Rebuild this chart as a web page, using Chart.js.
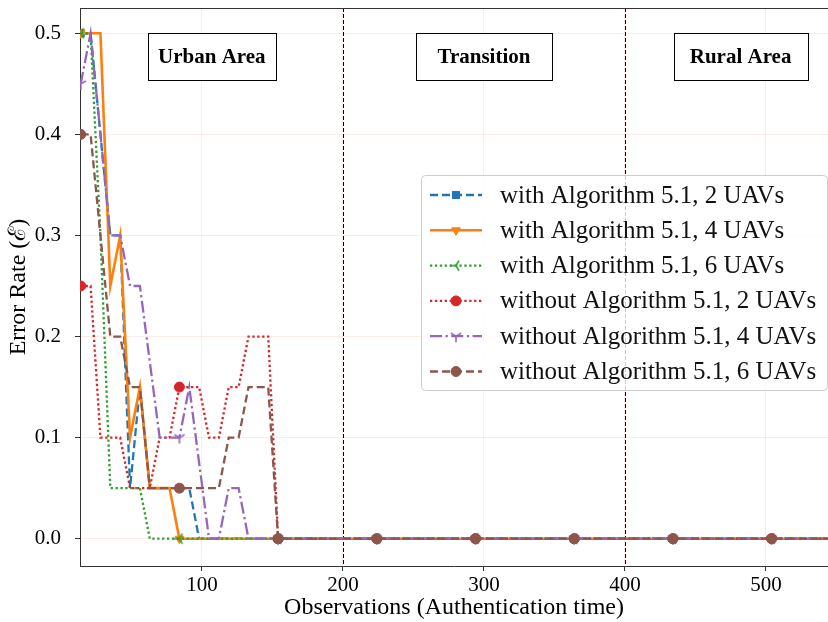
<!DOCTYPE html>
<html>
<head>
<meta charset="utf-8">
<title>Error rate vs observations</title>
<script src="https://cdn.jsdelivr.net/npm/chart.js@4.4.0/dist/chart.umd.min.js"></script>
<style>
  html, body { margin: 0; padding: 0; background: #fff; }
  #wrap { position: relative; width: 828px; height: 622px; }
</style>
</head>
<body>
<div id="wrap"><canvas id="errorChart"></canvas></div>
<script>
// observation times (x) - dense in the urban part, then only where markers sit
const observations = [14, 21, 28, 35, 42, 49, 56, 63, 70, 77, 84, 91, 98, 105, 112, 119, 126, 133, 140, 147, 154,
    224, 294, 364, 434, 504, 574];
// observations that carry a marker (markevery)
const markerObs = [14, 84, 154, 224, 294, 364, 434, 504, 574];

// error rate for each series
const withAlg2UAV = [0.5, 0.5, 0.4, 0.3, 0.3, 0.05, 0.15, 0.05, 0.05, 0.05, 0.05, 0.05, 0, 0, 0, 0, 0, 0, 0, 0, 0,
    0, 0, 0, 0, 0, 0];
const withAlg4UAV = [0.5, 0.5, 0.5, 0.25, 0.3, 0.1, 0.15, 0.05, 0.05, 0.05, 0, 0, 0, 0, 0, 0, 0, 0, 0, 0, 0,
    0, 0, 0, 0, 0, 0];
const withAlg6UAV = [0.5, 0.5, 0.3, 0.05, 0.05, 0.05, 0.05, 0, 0, 0, 0, 0, 0, 0, 0, 0, 0, 0, 0, 0, 0,
    0, 0, 0, 0, 0, 0];
const withoutAlg2UAV = [0.25, 0.25, 0.1, 0.1, 0.1, 0.05, 0.05, 0.05, 0.1, 0.1, 0.15, 0.15, 0.15, 0.1, 0.1, 0.15, 0.15, 0.2, 0.2, 0.2, 0,
    0, 0, 0, 0, 0, 0];
const withoutAlg4UAV = [0.45, 0.5, 0.4, 0.3, 0.3, 0.25, 0.25, 0.175, 0.1, 0.1, 0.1, 0.15, 0.075, 0, 0, 0.05, 0.05, 0, 0, 0, 0,
    0, 0, 0, 0, 0, 0];
const withoutAlg6UAV = [0.4, 0.4, 0.3, 0.2, 0.2, 0.15, 0.15, 0.05, 0.05, 0.05, 0.05, 0.05, 0.05, 0.05, 0.05, 0.1, 0.1, 0.15, 0.15, 0.15, 0,
    0, 0, 0, 0, 0, 0];

const seriesLabels = [
    'with Algorithm 5.1, 2 UAVs',
    'with Algorithm 5.1, 4 UAVs',
    'with Algorithm 5.1, 6 UAVs',
    'without Algorithm 5.1, 2 UAVs',
    'without Algorithm 5.1, 4 UAVs',
    'without Algorithm 5.1, 6 UAVs'
];

const xTicks = [100, 200, 300, 400, 500];
const yTicks = [0, 0.1, 0.2, 0.3, 0.4, 0.5];

// area boundaries and area names
const zoneBorders = [200, 400];
const zoneNames = ['Urban Area', 'Transition', 'Rural Area'];
const zoneCenters = [107, 300, 482];

const SERIF = '"Liberation Serif", "Times New Roman", "DejaVu Serif", serif';

// tri markers like matplotlib '1' and '3'
function triMarker(color, angles) {
    const c = document.createElement('canvas');
    c.width = 14; c.height = 14;
    const g = c.getContext('2d');
    g.strokeStyle = color;
    g.lineWidth = 1.6;
    g.beginPath();
    angles.forEach(a => {
        const r = a * Math.PI / 180;
        g.moveTo(7, 7);
        g.lineTo(7 + 6 * Math.cos(r), 7 + 6 * Math.sin(r));
    });
    g.stroke();
    return c;
}

function points(values) {
    return observations.map((x, i) => ({ x: x, y: values[i] }));
}

function markerRadius(r) {
    return ctx => (markerObs.includes(observations[ctx.dataIndex]) ? r : 0);
}

function makeSet(label, values, color, dash, width, style, rotation, order) {
    return {
        label: label,
        data: points(values),
        borderColor: color,
        backgroundColor: color,
        pointBackgroundColor: color,
        pointBorderColor: color,
        borderWidth: width,
        borderDash: dash,
        pointStyle: style,
        pointRotation: rotation,
        pointRadius: markerRadius(5),
        pointBorderWidth: 1,
        tension: 0,
        fill: false,
        order: order
    };
}

const datasets = [
    makeSet(seriesLabels[0], withAlg2UAV, '#1f77b4', [8, 4], 2.3, 'rect', 0, 6),
    makeSet(seriesLabels[1], withAlg4UAV, '#ff7f0e', [], 2.6, 'triangle', 180, 5),
    makeSet(seriesLabels[2], withAlg6UAV, '#2ca02c', [2.3, 2.6], 2.3, triMarker('#2ca02c', [180, 300, 60]), 0, 4),
    makeSet(seriesLabels[3], withoutAlg2UAV, '#d62728', [2.3, 2.6], 2.3, 'circle', 0, 3),
    makeSet(seriesLabels[4], withoutAlg4UAV, '#9467bd', [12, 3.5, 2.3, 3.5], 2.3, triMarker('#9467bd', [90, 210, 330]), 0, 2),
    makeSet(seriesLabels[5], withoutAlg6UAV, '#8c564b', [8, 4], 2.3, 'circle', 0, 1)
];

// box sizes of the area labels
const zoneBoxW = [128, 136, 134];
const zoneBoxH = 47;

// dashed boundaries, area labels, legend, top spine
const overlayPlugin = {
    id: 'overlay',
    beforeDatasetsDraw(chart) {
        const { ctx, chartArea: a, scales: { x } } = chart;
        ctx.save();
        ctx.strokeStyle = '#000';
        ctx.lineWidth = 1;
        ctx.setLineDash([4, 2]);
        zoneBorders.forEach(v => {
            const px = Math.round(x.getPixelForValue(v)) + 0.5;
            ctx.beginPath();
            ctx.moveTo(px, a.top);
            ctx.lineTo(px, a.bottom);
            ctx.stroke();
        });
        ctx.restore();
    },
    afterDraw(chart) {
        const { ctx, chartArea: a, scales: { x, y } } = chart;
        ctx.save();

        // top spine
        ctx.strokeStyle = '#333';
        ctx.lineWidth = 1;
        ctx.beginPath();
        ctx.moveTo(a.left, a.top + 0.5);
        ctx.lineTo(a.right, a.top + 0.5);
        ctx.stroke();

        // area labels in boxes
        ctx.font = 'bold 21px ' + SERIF;
        ctx.textAlign = 'center';
        ctx.textBaseline = 'middle';
        const cy = y.getPixelForValue(0.477);
        zoneNames.forEach((name, i) => {
            const cx = x.getPixelForValue(zoneCenters[i]);
            const w = zoneBoxW[i];
            const bx = Math.round(cx - w / 2) + 0.5;
            const by = Math.round(cy - zoneBoxH / 2) + 0.5;
            ctx.fillStyle = '#fff';
            ctx.fillRect(bx, by, w, zoneBoxH);
            ctx.strokeStyle = '#000';
            ctx.strokeRect(bx, by, w, zoneBoxH);
            ctx.fillStyle = '#000';
            ctx.fillText(name, cx, cy + 1);
        });

        // legend
        const lx = 421, ly = 175, lw = 406, lh = 215;
        ctx.fillStyle = 'rgba(255,255,255,0.8)';
        ctx.strokeStyle = '#cccccc';
        ctx.beginPath();
        ctx.roundRect(lx + 0.5, ly + 0.5, lw, lh, 4);
        ctx.fill();
        ctx.stroke();

        ctx.font = '25px ' + SERIF;
        ctx.textAlign = 'left';
        chart.data.datasets.forEach((ds, i) => {
            const ry = 195 + i * 35.3;
            ctx.strokeStyle = ds.borderColor;
            ctx.lineWidth = ds.borderWidth;
            ctx.setLineDash(ds.borderDash);
            ctx.beginPath();
            ctx.moveTo(430, ry);
            ctx.lineTo(482, ry);
            ctx.stroke();
            ctx.setLineDash([]);
            ctx.fillStyle = ds.pointBackgroundColor;
            ctx.lineWidth = 1;
            Chart.helpers.drawPoint(ctx, {
                pointStyle: ds.pointStyle,
                rotation: ds.pointRotation,
                radius: 5,
                borderWidth: 1
            }, 456, ry);
            ctx.fillStyle = '#111';
            ctx.fillText(ds.label, 500, ry + 1);
        });
        ctx.restore();
    }
};

const gridColor = 'rgba(255, 160, 160, 0.22)';

new Chart(document.getElementById('errorChart'), {
    type: 'line',
    data: { datasets: datasets },
    options: {
        responsive: true,
        maintainAspectRatio: false,
        animation: false,
        devicePixelRatio: 1,
        events: [],
        layout: { autoPadding: false, padding: { top: 8, right: 0, left: 0, bottom: 0 } },
        plugins: {
            legend: { display: false },
            tooltip: { enabled: false }
        },
        scales: {
            x: {
                type: 'linear',
                min: 13.5,
                max: 544,
                afterBuildTicks: s => { s.ticks = xTicks.map(v => ({ value: v })); },
                afterFit: s => { s.height = 56; s.paddingLeft = 0; s.paddingRight = 0; },
                ticks: {
                    color: '#000',
                    font: { family: SERIF, size: 21 },
                    padding: 2,
                    maxRotation: 0,
                    autoSkip: false
                },
                grid: { color: gridColor, tickColor: '#333', tickLength: 5 },
                border: { color: '#333', width: 1 },
                title: {
                    display: true,
                    text: 'Observations (Authentication time)',
                    color: '#000',
                    font: { family: SERIF, size: 24 },
                    padding: { top: 0, bottom: 0 }
                }
            },
            y: {
                min: -0.027,
                max: 0.525,
                afterBuildTicks: s => { s.ticks = yTicks.map(v => ({ value: v })); },
                afterFit: s => { s.width = 80; s.paddingTop = 0; s.paddingBottom = 0; },
                ticks: {
                    color: '#000',
                    font: { family: SERIF, size: 21 },
                    padding: 14,
                    callback: v => v.toFixed(1)
                },
                grid: { color: gridColor, tickColor: '#333', tickLength: 5 },
                border: { color: '#333', width: 1 },
                title: {
                    display: true,
                    text: 'Error Rate (ℰ)',
                    color: '#000',
                    font: { family: SERIF, size: 24 },
                    padding: { top: 4, bottom: 0 }
                }
            }
        }
    },
    plugins: [overlayPlugin]
});
</script>
</body>
</html>
